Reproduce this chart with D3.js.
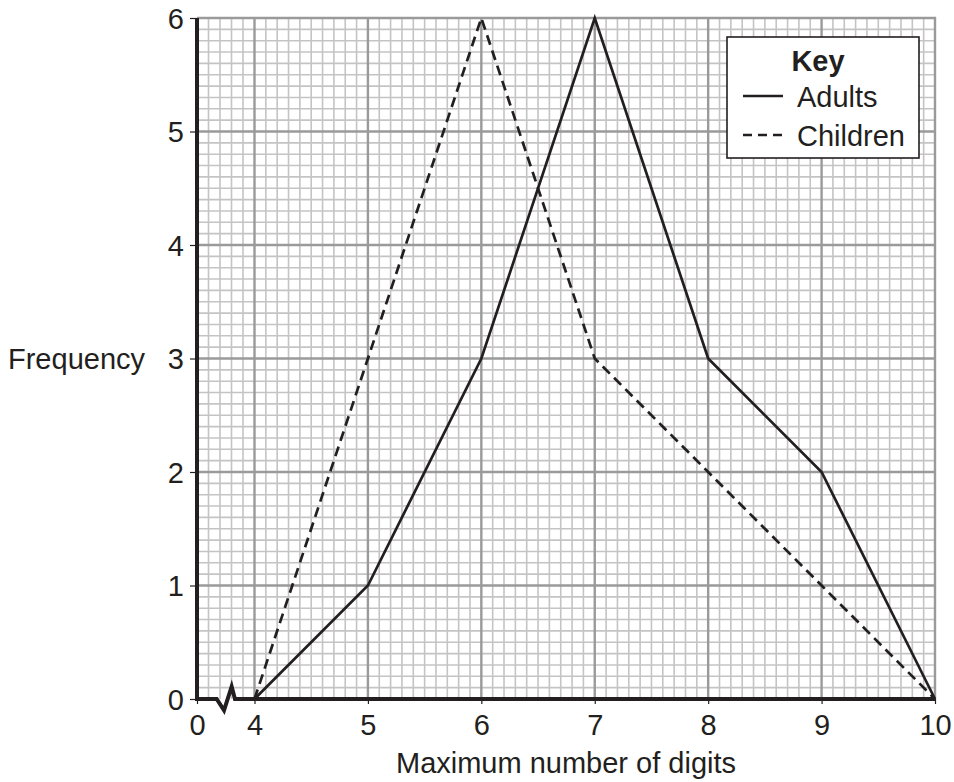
<!DOCTYPE html>
<html>
<head>
<meta charset="utf-8">
<script src="https://cdn.jsdelivr.net/npm/d3@7"></script>
<style>
  html, body { margin: 0; padding: 0; background: #fff; }
  svg { display: block; font-family: "Liberation Sans", Arial, sans-serif; }
</style>
</head>
<body>
<svg id="chart" width="954" height="782"></svg>
<script>
// ---- data ----
const digits = [4, 5, 6, 7, 8, 9, 10];
const adults = [0, 1, 3, 6, 3, 2, 0];
const children = [0, 3, 6, 3, 2, 1, 0];
const xTickValues = [0, 4, 5, 6, 7, 8, 9, 10];
const yTickValues = [0, 1, 2, 3, 4, 5, 6];
const seriesNames = ["Adults", "Children"];

const W = 954, H = 782;
const margin = { left: 197, right: 19, top: 18, bottom: 83 };
const ink = "#231f20";
const fs = 29;

const svg = d3.select("#chart");

// broken x axis: 0..4 squeezed into half a unit
const x = d3.scaleLinear().domain([0, 4, 10]).range([margin.left, 254.5, W - margin.right]);
const y = d3.scaleLinear().domain([0, 6]).range([H - margin.bottom, margin.top]);

const x0 = x(0), x1 = x(10), y0 = y(0), y1 = y(6);

// ---- grid ----
const grid = svg.append("g");
const minorX = [];
for (let i = 1; i <= 5; i++) minorX.push(i * 0.8);
for (let i = 41; i <= 100; i++) minorX.push(i / 10);
const minorY = d3.range(1, 61).map(i => i / 10);

grid.selectAll(".vmin").data(minorX.filter(v => !Number.isInteger(v) || v < 4)).join("line")
  .attr("x1", d => x(d)).attr("x2", d => x(d)).attr("y1", y1).attr("y2", y0)
  .attr("stroke", "#c4c4c4").attr("stroke-width", 1.6);
grid.selectAll(".hmin").data(minorY.filter(v => Math.abs(v - Math.round(v)) > 1e-6)).join("line")
  .attr("x1", x0).attr("x2", x1).attr("y1", d => y(d)).attr("y2", d => y(d))
  .attr("stroke", "#c4c4c4").attr("stroke-width", 1.6);
grid.selectAll(".vmaj").data([4, 5, 6, 7, 8, 9, 10]).join("line")
  .attr("x1", d => x(d)).attr("x2", d => x(d)).attr("y1", y1 - 1).attr("y2", y0)
  .attr("stroke", "#9a9a9a").attr("stroke-width", 2.4);
grid.selectAll(".hmaj").data([1, 2, 3, 4, 5, 6]).join("line")
  .attr("x1", x0).attr("x2", x1 + 1).attr("y1", d => y(d)).attr("y2", d => y(d))
  .attr("stroke", "#9a9a9a").attr("stroke-width", 2.4);

// ---- axes ----
const yAxis = svg.append("g").attr("transform", `translate(${x0},0)`)
  .call(d3.axisLeft(y).tickValues(yTickValues).tickSize(7).tickPadding(6).tickFormat(d3.format("d")));
yAxis.select(".domain").remove();
yAxis.selectAll(".tick line").attr("stroke", ink).attr("stroke-width", 1.2);
yAxis.selectAll(".tick text").attr("fill", ink).attr("font-size", fs)
  .attr("font-family", "Liberation Sans, Arial, sans-serif").attr("dy", "0.36em");

const xAxis = svg.append("g").attr("transform", `translate(0,${y0})`)
  .call(d3.axisBottom(x).tickValues(xTickValues).tickSize(5).tickPadding(10).tickFormat(d3.format("d")));
xAxis.select(".domain").remove();
xAxis.selectAll(".tick line").attr("stroke", ink).attr("stroke-width", 1.2);
xAxis.selectAll(".tick text").attr("fill", ink).attr("font-size", fs)
  .attr("font-family", "Liberation Sans, Arial, sans-serif").attr("dy", "0.71em");

// thick axis lines
svg.append("line").attr("x1", x0).attr("x2", x0).attr("y1", y1).attr("y2", y0 + 2)
  .attr("stroke", ink).attr("stroke-width", 4);
const breakPts = [[0, 0], [1.37, 0], [1.88, -0.1], [2.41, 0.11], [2.64, 0], [10, 0]];
svg.append("path")
  .attr("d", d3.line().x(d => x(d[0])).y(d => y(d[1]))(breakPts))
  .attr("fill", "none").attr("stroke", ink).attr("stroke-width", 4)
  .attr("stroke-linejoin", "miter");

// ---- series ----
const line = d3.line().x((d, i) => x(digits[i])).y(d => y(d));
svg.append("path").attr("d", line(children))
  .attr("fill", "none").attr("stroke", ink).attr("stroke-width", 2.7)
  .attr("stroke-dasharray", "10,6").attr("stroke-linejoin", "miter");
svg.append("path").attr("d", line(adults))
  .attr("fill", "none").attr("stroke", ink).attr("stroke-width", 2.7)
  .attr("stroke-linejoin", "miter");

// ---- axis titles ----
svg.append("text").attr("x", 8).attr("y", y(3)).attr("dy", "0.36em")
  .attr("font-size", fs).attr("fill", ink).text("Frequency");
svg.append("text").attr("x", (x0 + x1) / 2).attr("y", 773)
  .attr("text-anchor", "middle").attr("font-size", fs).attr("fill", ink)
  .text("Maximum number of digits");

// ---- key ----
const key = svg.append("g").attr("transform", "translate(727,37)");
key.append("rect").attr("width", 192).attr("height", 121)
  .attr("fill", "#fff").attr("stroke", ink).attr("stroke-width", 1.6);
key.append("text").attr("x", 91).attr("y", 34).attr("text-anchor", "middle")
  .attr("font-size", fs).attr("font-weight", "bold").attr("fill", ink).text("Key");
seriesNames.forEach((name, i) => {
  const ly = 59 + i * 39;
  key.append("line").attr("x1", 16).attr("x2", 56).attr("y1", ly).attr("y2", ly)
    .attr("stroke", ink).attr("stroke-width", 2.6)
    .attr("stroke-dasharray", i === 1 ? "9,6" : null);
  key.append("text").attr("x", 70).attr("y", ly + 11).attr("font-size", fs)
    .attr("fill", ink).text(name);
});
</script>
</body>
</html>
